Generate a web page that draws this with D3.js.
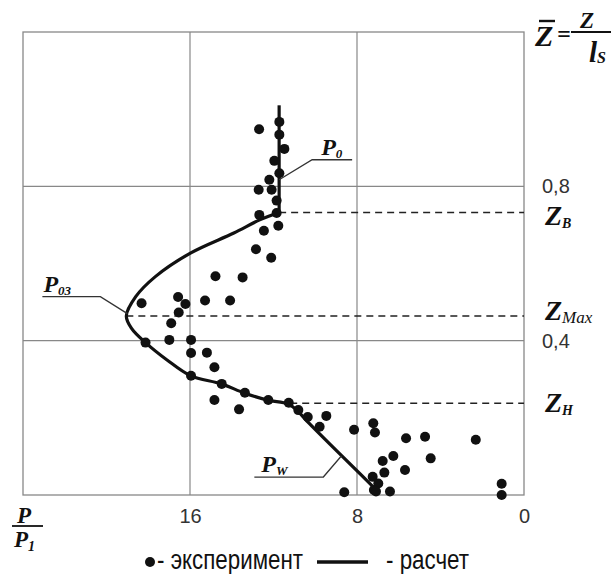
<!DOCTYPE html>
<html>
<head>
<meta charset="utf-8">
<script src="https://cdn.jsdelivr.net/npm/d3@7"></script>
<style>
  body { margin: 0; background: #fff; }
  svg { display: block; }
  .tick-label { font-family: "Liberation Sans", Arial, sans-serif; font-size: 20px; fill: #333; }
  .math { font-family: "Liberation Serif", "Times New Roman", serif; font-weight: bold; font-style: italic; fill: #111; }
  .legend-text { font-family: "Liberation Sans", Arial, sans-serif; font-size: 27px; fill: #111; }
</style>
</head>
<body>
<div id="chart"></div>
<script>
// experiment points: P/P1 and relative height Z/ls
const expP = [12.69, 11.72, 11.72, 11.48, 11.96, 11.72, 12.20, 12.71, 12.09, 11.85,
  12.68, 11.85, 11.77, 12.46, 12.84, 12.11, 14.78, 13.48, 18.32, 16.57,
  16.22, 15.28, 14.08, 16.54, 16.90, 18.13, 16.99, 15.95, 15.95, 15.19,
  14.83, 15.95, 14.48, 14.83, 13.65, 13.37, 12.25, 11.27, 10.81, 10.36,
  9.47, 9.79, 8.14, 7.22, 7.14, 5.65, 4.74, 2.31, 6.26, 6.77,
  4.47, 5.70, 6.69, 7.25, 6.98, 7.19, 8.61, 7.09, 6.42, 1.07, 1.07];
const expZ = [0.948, 0.967, 0.934, 0.897, 0.866, 0.834, 0.817, 0.791, 0.791, 0.763,
  0.726, 0.731, 0.698, 0.685, 0.637, 0.615, 0.567, 0.564, 0.497, 0.513,
  0.495, 0.504, 0.504, 0.473, 0.445, 0.395, 0.402, 0.402, 0.368, 0.369,
  0.331, 0.309, 0.288, 0.246, 0.222, 0.265, 0.246, 0.239, 0.220, 0.202,
  0.205, 0.177, 0.169, 0.186, 0.162, 0.147, 0.151, 0.143, 0.101, 0.088,
  0.095, 0.065, 0.058, 0.047, 0.030, 0.013, 0.007, 0.009, 0.009, 0.029, 0.000];

// calculated profile (first two points: straight part above Z_B)
const calcP = [11.73, 11.73, 12.66, 13.9, 15.98, 17.66, 18.6, 19.05,
  18.8, 18.13, 17.1, 15.97, 14.5, 13.38, 12.28, 11.3, 10.85, 10.3, 7.2];
const calcZ = [1.01, 0.732, 0.713, 0.679, 0.627, 0.566, 0.514, 0.464,
  0.432, 0.395, 0.35, 0.309, 0.288, 0.264, 0.246, 0.236, 0.218, 0.186, 0.02];

const xTicks = [16, 8, 0];
const yTicks = [0.4, 0.8];

// characteristic levels and where their dashed line starts (P/P1)
const levelNames = ['B', 'Max', 'H'];
const levelZ = [0.732, 0.464, 0.238];
const levelStart = [11.73, 19.05, 11.2];

const width = 611, height = 574;
const margin = {top: 32, right: 87, bottom: 79, left: 23};
const innerW = width - margin.left - margin.right;
const innerH = height - margin.top - margin.bottom;

const svg = d3.select('#chart').append('svg')
    .attr('width', width)
    .attr('height', height);

svg.append('rect').attr('width', width).attr('height', height).attr('fill', '#fff');

const x = d3.scaleLinear().domain([24, 0]).range([0, innerW]);
const y = d3.scaleLinear().domain([0, 1.2]).range([innerH, 0]);

const g = svg.append('g')
    .attr('transform', `translate(${margin.left},${margin.top})`);

// grid
g.selectAll('.vgrid')
    .data(xTicks.filter(d => d > 0))
  .join('line')
    .attr('class', 'vgrid')
    .attr('x1', d => x(d)).attr('x2', d => x(d))
    .attr('y1', 0).attr('y2', innerH)
    .attr('stroke', '#888').attr('stroke-width', 1.2);

g.selectAll('.hgrid')
    .data(yTicks)
  .join('line')
    .attr('class', 'hgrid')
    .attr('x1', 0).attr('x2', innerW)
    .attr('y1', d => y(d)).attr('y2', d => y(d))
    .attr('stroke', '#888').attr('stroke-width', 1.2);

g.append('rect')
    .attr('width', innerW).attr('height', innerH)
    .attr('fill', 'none').attr('stroke', '#888').attr('stroke-width', 1.3);

// axes (labels only)
const xAxis = g.append('g')
    .attr('transform', `translate(0,${innerH})`)
    .call(d3.axisBottom(x).tickValues(xTicks).tickSize(0).tickPadding(14).tickFormat(d3.format('d')));
xAxis.select('.domain').remove();
xAxis.selectAll('text').attr('class', 'tick-label').attr('font-size', null).attr('font-family', null);

const yAxis = g.append('g')
    .attr('transform', `translate(${innerW},0)`)
    .call(d3.axisRight(y).tickValues(yTicks).tickSize(0).tickPadding(18)
      .tickFormat(d => d3.format('.1f')(d).replace('.', ',')));
yAxis.select('.domain').remove();
yAxis.selectAll('text').attr('class', 'tick-label').attr('font-size', null).attr('font-family', null);

// dashed levels
g.selectAll('.level')
    .data(levelZ)
  .join('line')
    .attr('class', 'level')
    .attr('x1', (d, i) => x(levelStart[i])).attr('x2', innerW)
    .attr('y1', d => y(d)).attr('y2', d => y(d))
    .attr('stroke', '#222').attr('stroke-width', 1.5)
    .attr('stroke-dasharray', '7,5');

// calculated curve: straight top, smooth below Z_B
const calc = calcP.map((p, i) => [p, calcZ[i]]);
const straight = d3.line().x(d => x(d[0])).y(d => y(d[1]));
const smooth = d3.line().x(d => x(d[0])).y(d => y(d[1])).curve(d3.curveCatmullRom.alpha(0.5));

g.append('path')
    .attr('d', straight(calc.slice(0, 2)))
    .attr('fill', 'none').attr('stroke', '#111').attr('stroke-width', 3.2);
g.append('path')
    .attr('d', smooth(calc.slice(1)))
    .attr('fill', 'none').attr('stroke', '#111').attr('stroke-width', 3.2)
    .attr('stroke-linejoin', 'round');

// experiment
g.selectAll('.dot')
    .data(expP.map((p, i) => [p, expZ[i]]))
  .join('circle')
    .attr('class', 'dot')
    .attr('cx', d => x(d[0]))
    .attr('cy', d => y(d[1]))
    .attr('r', 5)
    .attr('fill', '#111');

// level labels Z_B, Z_Max, Z_H
const levelDy = [12.5, 4, 9];
levelNames.forEach((name, i) => {
  const t = g.append('text')
      .attr('class', 'math')
      .attr('x', innerW + 21)
      .attr('y', y(levelZ[i]) + levelDy[i])
      .attr('font-size', 28);
  t.append('tspan').text('Z');
  t.append('tspan')
      .attr('dy', 3)
      .attr('font-size', name === 'Max' ? 17 : 14)
      .attr('font-weight', name === 'Max' ? 'normal' : 'bold')
      .text(name);
});

// curve callouts
function callout(p, z, dx1, dy1, len, main, sub, textDx) {
  const ax = x(p), ay = y(z);
  const bx = ax + dx1, by = ay + dy1;
  const ex = bx + len;
  g.append('path')
      .attr('d', `M${ax},${ay}L${bx},${by}L${ex},${by}`)
      .attr('fill', 'none').attr('stroke', '#333').attr('stroke-width', 1.3);
  const t = g.append('text')
      .attr('class', 'math')
      .attr('x', Math.min(bx, ex) + textDx)
      .attr('y', by - 5)
      .attr('font-size', 24);
  t.append('tspan').text(main);
  t.append('tspan').attr('dy', 3).attr('font-size', 13).text(sub);
}
callout(11.73, 0.817, 33, -20, 40, 'P', '0', 9);
callout(19.0, 0.47, -27, -17, -58, 'P', '03', 1);
callout(8.75, 0.101, -18, 21, -69, 'P', 'W', 7);

// Z = Z / ls formula
const f = svg.append('g');
f.append('text').attr('class', 'math').attr('x', 535).attr('y', 46).attr('font-size', 30).text('Z');
f.append('line').attr('x1', 539).attr('x2', 555).attr('y1', 21).attr('y2', 21)
    .attr('stroke', '#111').attr('stroke-width', 2.4);
f.append('text').attr('class', 'math').attr('x', 557).attr('y', 42).attr('font-size', 24)
    .attr('font-style', 'normal').text('=');
f.append('line').attr('x1', 571).attr('x2', 611).attr('y1', 32).attr('y2', 32)
    .attr('stroke', '#111').attr('stroke-width', 1.8);
f.append('text').attr('class', 'math').attr('x', 580).attr('y', 28).attr('font-size', 23).text('Z');
const den = f.append('text').attr('class', 'math').attr('x', 589).attr('y', 62).attr('font-size', 29);
den.append('tspan').text('l');
den.append('tspan').attr('dy', 1).attr('font-size', 16).text('S');

// P / P1
const pf = svg.append('g');
pf.append('text').attr('class', 'math').attr('x', 17).attr('y', 523).attr('font-size', 23).text('P');
pf.append('line').attr('x1', 12).attr('x2', 43).attr('y1', 526).attr('y2', 526)
    .attr('stroke', '#111').attr('stroke-width', 1.8);
const pd = pf.append('text').attr('class', 'math').attr('x', 14).attr('y', 547).attr('font-size', 23);
pd.append('tspan').text('P');
pd.append('tspan').attr('dy', 4).attr('font-size', 14).text('1');

// legend (condensed text like the original)
const legend = svg.append('g').attr('class', 'legend');
legend.append('circle').attr('cx', 150).attr('cy', 562).attr('r', 5).attr('fill', '#111');
legend.append('text').attr('class', 'legend-text').attr('x', 157).attr('y', 569)
    .attr('textLength', 146).attr('lengthAdjust', 'spacingAndGlyphs').text('- эксперимент');
legend.append('line').attr('x1', 317).attr('x2', 368).attr('y1', 562).attr('y2', 562)
    .attr('stroke', '#111').attr('stroke-width', 3.5);
legend.append('text').attr('class', 'legend-text').attr('x', 386).attr('y', 569)
    .attr('textLength', 83).attr('lengthAdjust', 'spacingAndGlyphs').text('- расчет');
</script>
</body>
</html>
